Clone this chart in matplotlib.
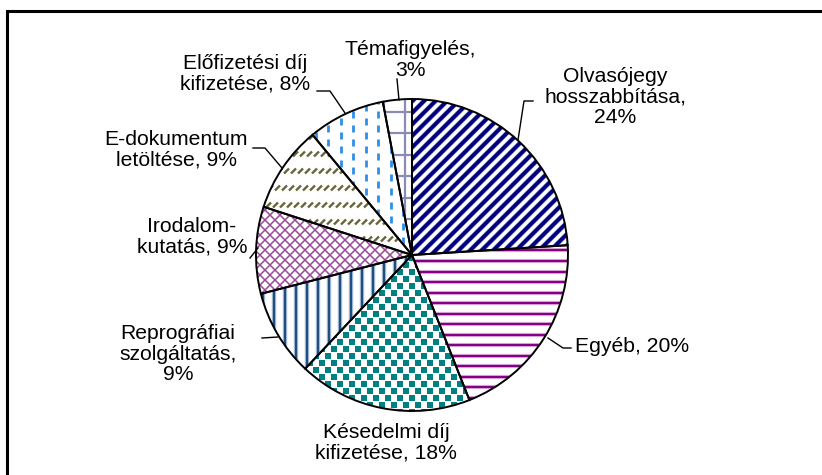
import numpy as np
import matplotlib
matplotlib.use("Agg")
import matplotlib.pyplot as plt
from matplotlib.patches import Wedge, Rectangle
from matplotlib.collections import LineCollection

# ---- data ----
categories = ["Olvasójegy hosszabbítása", "Egyéb", "Késedelmi díj kifizetése",
              "Reprográfiai szolgáltatás", "Irodalomkutatás", "E-dokumentum letöltése",
              "Előfizetési díj kifizetése", "Témafigyelés"]
values = [24, 20, 18, 9, 9, 9, 8, 3]
label_texts = ["Olvasójegy\nhosszabbítása,\n24%", "Egyéb, 20%", "Késedelmi díj\nkifizetése, 18%",
               "Reprográfiai\nszolgáltatás,\n9%", "Irodalom-\nkutatás, 9%", "E-dokumentum\nletöltése, 9%",
               "Előfizetési díj\nkifizetése, 8%", "Témafigyelés,\n3%"]

# ---- layout (pixels) ----
W, H, DPI = 822, 475, 100
cx, cy, R = 412, 255, 156

plt.rcParams['font.family'] = ['Liberation Sans', 'DejaVu Sans']

fig = plt.figure(figsize=(W / DPI, H / DPI), dpi=DPI)
fig.patch.set_facecolor('white')
ax = fig.add_axes([0, 0, 1, 1])

def P(px, py):
    return ((px - cx) / R, (cy - py) / R)

# frame
fig.patches.append(Rectangle((7 / W, -0.05), 1.2, 1 - 11 / H + 0.05, transform=fig.transFigure,
                             fill=False, edgecolor='black', linewidth=2.2, zorder=0))

wedges, _ = ax.pie(values, startangle=90, counterclock=False, radius=1, center=(0, 0),
                   wedgeprops=dict(facecolor='white', edgecolor='none', linewidth=0))
ax.set_aspect('auto')
ax.set_xlim(-cx / R, (W - cx) / R)
ax.set_ylim(-(H - cy) / R, cy / R)
ax.axis('off')
for w in wedges:
    w.set_zorder(1)

X0, X1 = cx - R - 30, cx + R + 30
Y0, Y1 = cy - R - 30, cy + R + 30

def add_lines(segs_px, wedge, color, lw, z=2):
    segs = [[P(*a), P(*b)] for a, b in segs_px]
    lc = LineCollection(segs, colors=color, linewidths=lw, capstyle='butt', zorder=z)
    lc.set_clip_path(wedge)
    ax.add_collection(lc)

def diag(sign, spacing, offset=0):
    segs = []
    if sign > 0:
        for k in np.arange(X0 + Y0 + offset, X1 + Y1, spacing):
            segs.append(((k - Y0, Y0), (k - Y1, Y1)))
    else:
        for k in np.arange(X0 - Y1 + offset, X1 - Y0, spacing):
            segs.append(((k + Y0, Y0), (k + Y1, Y1)))
    return segs

def hlines(spacing, offset=0):
    return [((X0, y), (X1, y)) for y in np.arange(Y0 + offset, Y1, spacing)]

def vlines(spacing, offset=0):
    return [((x, Y0), (x, Y1)) for x in np.arange(X0 + offset, X1, spacing)]

# 1 Olvasójegy: navy diagonal stripes
add_lines(diag(+1, 11.5), wedges[0], '#7F7FBF', 3.4)
add_lines(diag(+1, 11.5), wedges[0], '#00007F', 2.6, z=2.1)
# 2 Egyéb: purple horizontal stripes
add_lines(hlines(10.5, 3), wedges[1], '#D7A9D7', 3.0)
add_lines(hlines(10.5, 3), wedges[1], '#860086', 1.5, z=2.1)
# 3 Késedelmi: teal squares
xs, ys = [], []
row = 0
for py in np.arange(Y0, Y1, 7):
    off = 0 if row % 2 == 0 else 6
    for px in np.arange(X0 + off, X1, 12):
        q = P(px, py)
        xs.append(q[0]); ys.append(q[1])
    row += 1
sc = ax.scatter(xs, ys, s=13, marker='s', color='#008080', linewidths=0, zorder=2)
sc.set_clip_path(wedges[2])
# 4 Reprográfiai: steel-blue vertical stripes
add_lines(vlines(11, 4), wedges[3], '#A9C0DA', 3.2)
add_lines(vlines(11, 4), wedges[3], '#1F4E7F', 1.6, z=2.1)
# 5 Irodalomkutatás: purple diagonal cross-hatch
add_lines(diag(+1, 10), wedges[4], '#9A4A9A', 1.1)
add_lines(diag(-1, 10), wedges[4], '#9A4A9A', 1.1)
# 6 E-dokumentum: olive short diagonal dashes in rows
segs = []
row = 0
for py in np.arange(Y0, Y1, 17):
    off = (row * 5) % 7
    for px in np.arange(X0 + off, X1, 7):
        segs.append(((px, py + 2.5), (px + 5, py - 2.5)))
    row += 1
add_lines(segs, wedges[5], '#66663A', 1.7)
# 7 Előfizetési: blue vertical dashes
segs = []
col = 0
for px in np.arange(X0 + 2, X1, 12.5):
    off = 0 if col % 2 == 0 else 7
    for py in np.arange(Y0 + off, Y1, 14):
        segs.append(((px, py), (px, py + 7.5)))
    col += 1
add_lines(segs, wedges[6], '#2F8FE8', 2.0)
# 8 Témafigyelés: lavender grid
add_lines(hlines(21.5, (112 - Y0) % 21.5), wedges[7], '#8A8AB8', 1.6)
add_lines(vlines(21.5, (405 - X0) % 21.5), wedges[7], '#8A8AB8', 1.6)

# outlines
for w in wedges:
    ow = Wedge(w.center, w.r, w.theta1, w.theta2, fill=False, edgecolor='black',
               linewidth=1.4, zorder=3)
    ax.add_patch(ow)

# labels (pixel positions: centre of text block)
label_pos = [(615, 97), (632, 346), (386, 443), (178, 354), (192, 237),
             (176, 150), (245, 74), (410, 60)]
for txt, (px, py) in zip(label_texts, label_pos):
    ax.text(*P(px, py), txt, ha='center', va='center', fontsize=15.2, linespacing=1.1,
            color='black', zorder=5)

# leader lines
leaders = [
    [(533, 101), (524, 101), (518, 140)],
    [(571, 348), (563, 348), (548, 338)],
    [(262, 338), (278, 337)],
    [(250, 258), (258, 248)],
    [(253, 148), (265, 148), (282, 168)],
    [(317, 91), (330, 91), (345, 113)],
    [(397, 79), (399, 100)],
]
for pts in leaders:
    d = [P(*p) for p in pts]
    ax.plot([p[0] for p in d], [p[1] for p in d], color='black', linewidth=1.0, zorder=4)

fig.savefig('out.png', dpi=DPI, facecolor='white')
